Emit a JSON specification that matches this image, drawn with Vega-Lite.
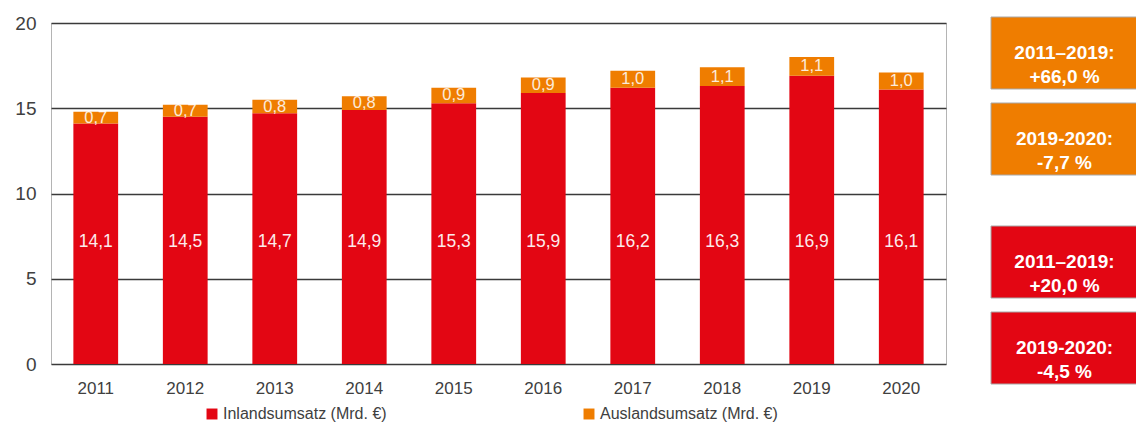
{
  "$schema": "https://vega.github.io/schema/vega-lite/v6.json",
  "padding": {"left": 14, "top": 13, "right": 0, "bottom": 0},
  "background": "white",
  "config": {
    "font": "Liberation Sans",
    "view": {"stroke": null},
    "axis": {"labelFont": "Liberation Sans", "labelColor": "#404040"}
  },
  "spacing": 43,
  "hconcat": [
    {
      "width": 895,
      "height": 341,
      "view": {"stroke": "#b4b4b4", "strokeWidth": 1},
      "data": {"values": [
        {"year": "2011", "type": "Inlandsumsatz (Mrd. €)", "value": 14.1, "order": 1},
        {"year": "2011", "type": "Auslandsumsatz (Mrd. €)", "value": 0.7, "order": 2},
        {"year": "2012", "type": "Inlandsumsatz (Mrd. €)", "value": 14.5, "order": 1},
        {"year": "2012", "type": "Auslandsumsatz (Mrd. €)", "value": 0.7, "order": 2},
        {"year": "2013", "type": "Inlandsumsatz (Mrd. €)", "value": 14.7, "order": 1},
        {"year": "2013", "type": "Auslandsumsatz (Mrd. €)", "value": 0.8, "order": 2},
        {"year": "2014", "type": "Inlandsumsatz (Mrd. €)", "value": 14.9, "order": 1},
        {"year": "2014", "type": "Auslandsumsatz (Mrd. €)", "value": 0.8, "order": 2},
        {"year": "2015", "type": "Inlandsumsatz (Mrd. €)", "value": 15.3, "order": 1},
        {"year": "2015", "type": "Auslandsumsatz (Mrd. €)", "value": 0.9, "order": 2},
        {"year": "2016", "type": "Inlandsumsatz (Mrd. €)", "value": 15.9, "order": 1},
        {"year": "2016", "type": "Auslandsumsatz (Mrd. €)", "value": 0.9, "order": 2},
        {"year": "2017", "type": "Inlandsumsatz (Mrd. €)", "value": 16.2, "order": 1},
        {"year": "2017", "type": "Auslandsumsatz (Mrd. €)", "value": 1.0, "order": 2},
        {"year": "2018", "type": "Inlandsumsatz (Mrd. €)", "value": 16.3, "order": 1},
        {"year": "2018", "type": "Auslandsumsatz (Mrd. €)", "value": 1.1, "order": 2},
        {"year": "2019", "type": "Inlandsumsatz (Mrd. €)", "value": 16.9, "order": 1},
        {"year": "2019", "type": "Auslandsumsatz (Mrd. €)", "value": 1.1, "order": 2},
        {"year": "2020", "type": "Inlandsumsatz (Mrd. €)", "value": 16.1, "order": 1},
        {"year": "2020", "type": "Auslandsumsatz (Mrd. €)", "value": 1.0, "order": 2}
      ]},
      "transform": [
        {"stack": "value", "groupby": ["year"], "sort": [{"field": "order", "order": "ascending"}], "as": ["v0", "v1"]},
        {"calculate": "(datum.v0 + datum.v1) / 2", "as": "mid"},
        {"calculate": "replace(format(datum.value, '.1f'), '.', ',')", "as": "lbl"}
      ],
      "encoding": {
        "x": {
          "field": "year", "type": "ordinal",
          "scale": {"paddingInner": 0.5, "paddingOuter": 0.25},
          "axis": {"title": null, "labelAngle": 0, "domain": false, "ticks": false, "labelPadding": 16, "labelFontSize": 17, "grid": false}
        }
      },
      "layer": [
        {
          "mark": {"type": "bar"},
          "encoding": {
            "y": {
              "field": "v0", "type": "quantitative",
              "scale": {"domain": [0, 20], "nice": false},
              "axis": {"title": null, "values": [0, 5, 10, 15, 20], "domain": false, "ticks": false, "labelPadding": 15, "labelFontSize": 19, "gridColor": "#3a3a3a", "gridWidth": 1.4, "gridOpacity": 1}
            },
            "y2": {"field": "v1"},
            "color": {
              "field": "type", "type": "nominal",
              "scale": {"domain": ["Inlandsumsatz (Mrd. €)", "Auslandsumsatz (Mrd. €)"], "range": ["#e30613", "#ef7d00"]},
              "legend": {
                "title": null, "orient": "none", "direction": "horizontal",
                "legendX": 153, "legendY": 383,
                "symbolType": "square", "symbolSize": 120, "symbolStrokeWidth": 0,
                "labelFont": "Liberation Sans", "labelFontSize": 16, "labelColor": "#404040",
                "labelOffset": 3, "labelLimit": 0, "columnPadding": 194
              }
            }
          }
        },
        {
          "transform": [{"filter": "datum.order == 1"}],
          "mark": {"type": "text", "color": "white", "fontSize": 17.5, "opacity": 0.92},
          "encoding": {
            "y": {"datum": 7.15, "type": "quantitative"},
            "text": {"field": "lbl"}
          }
        },
        {
          "transform": [{"filter": "datum.order == 2"}],
          "mark": {"type": "text", "color": "white", "fontSize": 16.5, "opacity": 0.85},
          "encoding": {
            "y": {"field": "mid", "type": "quantitative"},
            "text": {"field": "lbl"}
          }
        }
      ]
    },
    {
      "spacing": 44,
      "vconcat": [
        {
          "width": 147,
          "height": 158,
          "data": {"values": [
            {"box": "a", "text": "2011–2019:\n+66,0 %"},
            {"box": "b", "text": "2019-2020:\n-7,7 %"}
          ]},
          "encoding": {
            "y": {"field": "box", "type": "nominal", "scale": {"paddingInner": 0.163, "paddingOuter": 0, "range": [-6, 152]}, "axis": null}
          },
          "layer": [
            {
              "mark": {"type": "bar", "color": "#ef7d00", "stroke": "#a8a8a8", "strokeWidth": 1},
              "encoding": {
                "x": {"datum": 0, "type": "quantitative", "scale": {"domain": [0, 1]}, "axis": null},
                "x2": {"datum": 1}
              }
            },
            {
              "mark": {"type": "text", "color": "white", "font": "Liberation Sans", "fontWeight": "bold", "fontSize": 19, "lineBreak": "\n", "lineHeight": 24},
              "encoding": {
                "x": {"datum": 0.5, "type": "quantitative"},
                "text": {"field": "text"}
              }
            }
          ]
        },
        {
          "width": 147,
          "height": 158,
          "data": {"values": [
            {"box": "a", "text": "2011–2019:\n+20,0 %"},
            {"box": "b", "text": "2019-2020:\n-4,5 %"}
          ]},
          "encoding": {
            "y": {"field": "box", "type": "nominal", "scale": {"paddingInner": 0.163, "paddingOuter": 0, "range": [-6, 152]}, "axis": null}
          },
          "layer": [
            {
              "mark": {"type": "bar", "color": "#e30613", "stroke": "#a8a8a8", "strokeWidth": 1},
              "encoding": {
                "x": {"datum": 0, "type": "quantitative", "scale": {"domain": [0, 1]}, "axis": null},
                "x2": {"datum": 1}
              }
            },
            {
              "mark": {"type": "text", "color": "white", "font": "Liberation Sans", "fontWeight": "bold", "fontSize": 19, "lineBreak": "\n", "lineHeight": 24},
              "encoding": {
                "x": {"datum": 0.5, "type": "quantitative"},
                "text": {"field": "text"}
              }
            }
          ]
        }
      ]
    }
  ]
}
